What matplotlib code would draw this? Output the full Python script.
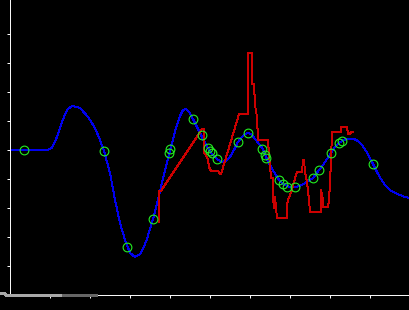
import numpy as np
import matplotlib
matplotlib.use("Agg")
import matplotlib.pyplot as plt

# smooth mean curve (blue)
mean_x = [0.0, 0.925, 1.05, 1.175, 1.3, 1.425, 1.55, 1.75, 1.95, 2.125, 2.25, 2.35, 2.5, 2.625,
          2.75, 2.875, 3.0, 3.125, 3.25, 3.35, 3.425, 3.5, 3.575, 3.675, 3.775, 3.875, 3.975,
          4.05, 4.15, 4.25, 4.325, 4.4, 4.475, 4.575, 4.675, 4.775, 4.875, 4.95, 5.05, 5.175,
          5.3, 5.4, 5.5, 5.6, 5.7, 5.8, 5.875, 5.95, 6.05, 6.15, 6.25, 6.325, 6.4, 6.5, 6.6,
          6.725, 6.825, 6.925, 7.025, 7.125, 7.25, 7.375, 7.5, 7.575, 7.65, 7.725, 7.825,
          7.925, 8.025, 8.125, 8.225, 8.3, 8.4, 8.5, 8.6, 8.7, 8.8, 8.9, 9.0, 9.075, 9.175,
          9.275, 9.375, 9.5, 9.625, 9.75, 9.875, 10.0]
mean_y = [0.0, 0.0, 0.07, 0.45, 0.97, 1.38, 1.52, 1.45, 1.14, 0.76, 0.34, -0.03, -0.79, -1.72,
          -2.52, -3.10, -3.55, -3.69, -3.59, -3.34, -3.07, -2.72, -2.38, -1.86, -1.28, -0.69,
          -0.14, 0.24, 0.76, 1.17, 1.38, 1.41, 1.31, 1.07, 0.79, 0.52, 0.24, 0.07, -0.14,
          -0.31, -0.41, -0.38, -0.24, 0.0, 0.28, 0.45, 0.55, 0.59, 0.52, 0.34, 0.17, 0.03,
          -0.24, -0.52, -0.76, -1.03, -1.17, -1.24, -1.28, -1.28, -1.24, -1.14, -1.03, -0.97,
          -0.83, -0.69, -0.52, -0.31, -0.10, 0.10, 0.24, 0.31, 0.38, 0.38, 0.38, 0.31, 0.17,
          -0.03, -0.28, -0.48, -0.76, -1.0, -1.21, -1.38, -1.48, -1.55, -1.62, -1.66]

# noisy trace (red)
trace_x = [3.725, 3.725, 3.775, 4.8, 4.85, 4.85, 4.9, 4.95, 4.975, 5.025, 5.2, 5.25, 5.275,
           5.725, 5.95, 5.95, 6.05, 6.05, 6.1, 6.125, 6.175, 6.2, 6.45, 6.475, 6.5, 6.525,
           6.575, 6.575, 6.6, 6.625, 6.65, 6.675, 6.925, 6.925, 6.95, 7.05, 7.1, 7.175, 7.3,
           7.325, 7.35, 7.375, 7.425, 7.475, 7.5, 7.775, 7.775, 7.825, 7.825, 7.95, 7.975,
           8.0, 8.025, 8.05, 8.275, 8.275, 8.425, 8.45, 8.5, 8.525, 8.575]
trace_y = [-2.48, -1.41, -1.41, 0.72, 0.72, -0.10, -0.17, -0.34, -0.59, -0.72, -0.72, -0.83,
           -0.83, 1.24, 1.24, 3.34, 3.34, 2.28, 2.28, 1.55, 1.14, 0.34, 0.34, -0.17, -0.52,
           -0.97, -0.97, -1.62, -2.0, -1.62, -2.0, -2.34, -2.34, -1.90, -1.72, -1.38, -1.10,
           -0.76, -0.76, -0.34, -0.34, -0.76, -1.10, -1.72, -2.14, -2.14, -1.38, -1.72, -1.97,
           -1.97, -1.72, -1.14, -0.34, 0.62, 0.62, 0.79, 0.79, 0.55, 0.55, 0.62, 0.62]

# observed samples (green circles)
obs_x = [0.35, 2.35, 2.925, 3.575, 3.975, 4.0, 4.575, 4.8, 4.95, 5.0, 5.05, 5.175, 5.7, 5.95,
         6.3, 6.375, 6.4, 6.725, 6.825, 6.925, 7.125, 7.575, 7.725, 8.025, 8.225, 8.3, 9.075]
obs_y = [0.0, -0.03, -3.34, -2.38, -0.10, 0.03, 1.07, 0.52, 0.07, -0.03, -0.10, -0.31, 0.28,
         0.59, 0.03, -0.17, -0.28, -1.03, -1.17, -1.28, -1.28, -0.97, -0.69, -0.10, 0.24,
         0.31, -0.48]

# grey strip at the bottom left
strip_light_x = [-0.25, -0.125, -0.125, 1.325]
strip_light_y = [-4.94, -4.94, -4.99, -4.99]
strip_dark_x = [1.325, 2.15]
strip_dark_y = [-4.99, -4.99]

fig = plt.figure(figsize=(4.1, 3.1), dpi=100, facecolor="black")
ax = fig.add_axes([10 / 410, 15 / 310, 400 / 410, 295 / 310], facecolor="black")

ax.plot(mean_x, mean_y, color="#0000ee", lw=0.7, antialiased=False, zorder=2)
ax.plot(trace_x, trace_y, color="#cc0000", lw=0.7, antialiased=False, zorder=3)
ax.plot(obs_x, obs_y, ls="none", marker="o", ms=6.3, mfc="none", mec="#22ee22",
        mew=0.8, zorder=4)

ax.plot(strip_light_x, strip_light_y, color="#a8a8a8", lw=1.0, clip_on=False, zorder=5,
        antialiased=False)
ax.plot(strip_dark_x, strip_dark_y, color="#666666", lw=1.0, clip_on=False, zorder=5,
        antialiased=False)

ax.set_xlim(0, 10)
ax.set_ylim(-5, 150 / 29)
ax.set_xticks(np.arange(1, 10))
ax.set_yticks(np.arange(-4, 5))
ax.tick_params(colors="white", direction="out", length=2.3, width=0.7,
               labelbottom=False, labelleft=False)
for side in ["top", "right"]:
    ax.spines[side].set_visible(False)
for side in ["left", "bottom"]:
    ax.spines[side].set_color("white")
    ax.spines[side].set_linewidth(0.7)

fig.savefig("out.png", dpi=100, facecolor="black")
